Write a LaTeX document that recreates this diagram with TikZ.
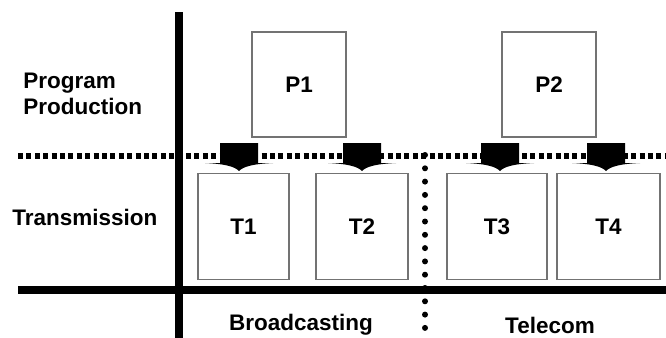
\documentclass[tikz,border=0pt]{standalone}
\usepackage{fontspec}
\setmainfont{Liberation Sans}
\usetikzlibrary{positioning}

\begin{document}
\begin{tikzpicture}[
        x=0.02cm, y=-0.02cm,
        every node/.style={font=\fontsize{12.8}{14.5}\selectfont\bfseries},
        layerlabel/.style={align=left, anchor=west, inner sep=0pt},
        block/.style={draw=black!55, line width=0.7pt, minimum height=2.12cm, inner sep=0pt},
        thickline/.style={line width=8*0.02cm},
        splitline/.style={line width=5.5*0.02cm, dash pattern=on 5*0.02cm off 3.4*0.02cm},
        dotline/.style={line width=6*0.02cm, line cap=round, dash pattern=on 0pt off 13.3*0.02cm},
        blockarrow/.pic={
            \fill (-19,0) -- (19,0) -- (19,20) -- (34,20)
                .. controls (12,21) and (4,24) .. (0,28)
                .. controls (-4,24) and (-12,21) .. (-34,20)
                -- (-19,20) -- cycle;
        }
    ]
        \useasboundingbox (0,0) rectangle (666,338);

        % Ebenen links
        \node[layerlabel] (prod) at (23,94) {Program\\Production};
        \node[layerlabel] (trans) at (12,217) {Transmission};

        % Bereiche unten
        \node (bc) at (301,325) {Broadcasting};
        \node (tc) at (550,325) {Telecom};

        % Trennlinien
        \draw[splitline] (18,156) -- (666,156);
        \draw[dotline] (425,155) -- (425,338);
        \draw[thickline] (179,12) -- (179,338);
        \draw[thickline] (18,290) -- (666,290);

        % Kaesten
        \node[block, minimum width=1.88cm, minimum height=2.1cm] (P1) at (299,84.5) {P1};
        \node[block, minimum width=1.88cm, minimum height=2.1cm] (P2) at (549,84.5) {P2};
        \node[block, minimum width=1.82cm] (T1) at (243.5,226.5) {T1};
        \node[block, minimum width=1.84cm] (T2) at (362,226.5) {T2};
        \node[block, minimum width=2.00cm] (T3) at (497,226.5) {T3};
        \node[block, minimum width=2.06cm] (T4) at (608.5,226.5) {T4};

        % Pfeile
        \coordinate (a1) at (239,143);
        \coordinate (a2) at (362,143);
        \coordinate (a3) at (500,143);
        \coordinate (a4) at (606,143);
        \foreach \a in {a1,a2,a3,a4}
            \pic at (\a) {blockarrow};
    \end{tikzpicture}
\end{document}
